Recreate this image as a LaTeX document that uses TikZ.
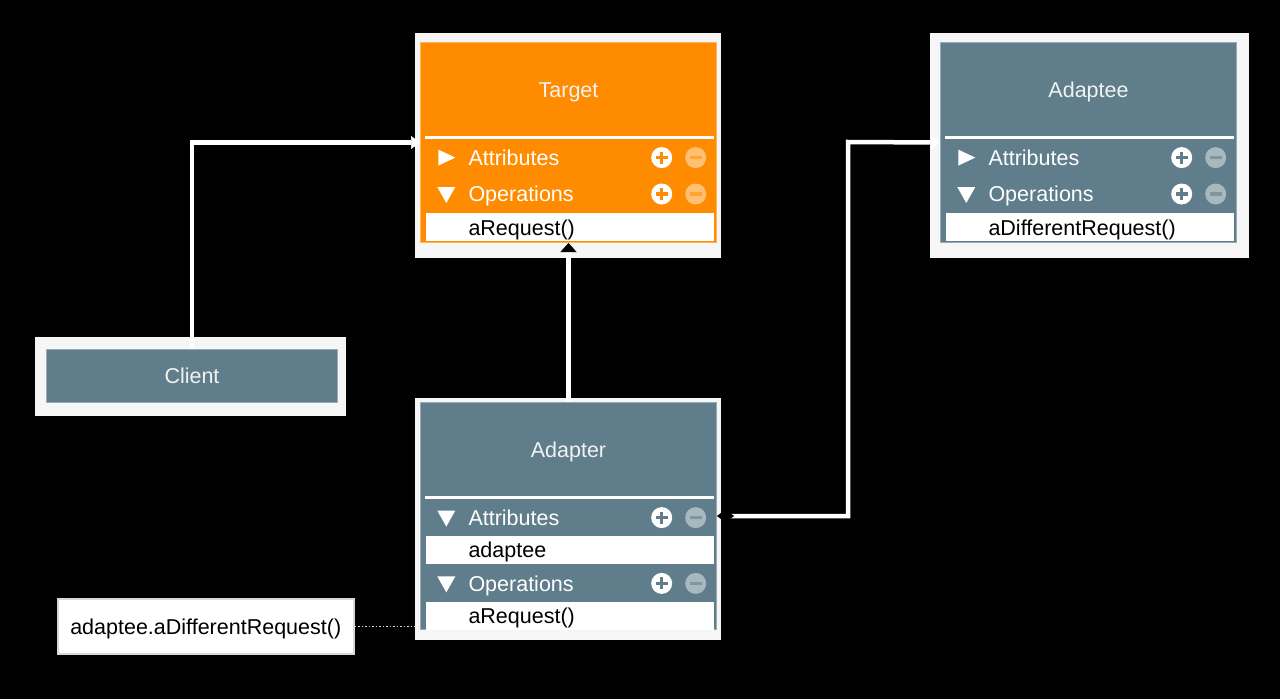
\documentclass[tikz,border=0pt]{standalone}
\usepackage{fontspec}
\setmainfont{Liberation Sans}
\usetikzlibrary{positioning, calc, arrows.meta, backgrounds}

\definecolor{targetorange}{RGB}{255,140,0}
\definecolor{slate}{RGB}{96,125,139}
\definecolor{titlewhite}{RGB}{242,242,242}
\definecolor{halowhite}{RGB}{246,246,246}
\definecolor{notegray}{RGB}{215,215,215}

\tikzset{
  classbox/.style={fill=#1, draw=white!35!#1, line width=1pt, minimum width=296pt, inner sep=0pt, anchor=north west, text height=15.5pt, text depth=0pt},
  classtitle/.style={text=titlewhite, minimum width=296pt, minimum height=95pt, inner sep=0pt, anchor=north, text height=15.5pt, text depth=0pt},
  section/.style={text=white, text width=200pt, inner xsep=48pt, inner ysep=0pt, minimum height=36pt, align=left, text height=15.5pt, text depth=0pt},
  member/.style={fill=white, text=black, text width=202pt, inner xsep=43pt, inner ysep=0pt, minimum height=28pt, align=left, text height=15.5pt, text depth=0pt},
  divider/.style={white, line width=3pt},
  halo/.style={fill=halowhite},
  link/.style={white, line width=4.5pt},
  noteline/.style={notegray, line width=1.5pt, dotted},
  collapsed/.pic={\fill[white] (-8,-8) -- (9,0) -- (-8,8) -- cycle;},
  expanded/.pic={\fill[white] (-9,-7) -- (9,-7) -- (0,9) -- cycle;},
  editbtns/.pic={
    \fill[white] (-55,0) circle (10.5);
    \fill[#1] (-61,-1.7) rectangle (-49,1.7);
    \fill[#1] (-56.7,-6) rectangle (-53.3,6);
    \fill[white!45!#1] (-21,0) circle (10.5);
    \fill[white!20!#1] (-27,-1.7) rectangle (-15,1.7);
  },
}

\begin{document}
\begin{tikzpicture}[x=1pt, y=-1pt, font=\fontsize{21.5pt}{26pt}\selectfont]
\useasboundingbox (0,0) rectangle (1280,699);

% Target
\node[classbox=targetorange, minimum height=200pt] (target) at (420,42) {};
\node[classtitle, below=0pt of target.north] (target-title) {Target};
\draw[divider] ([xshift=5pt]target-title.south west) -- ([xshift=-3pt]target-title.south east);
\node[section, below=2pt of target-title.south west, anchor=north west] (target-attr) {Attributes};
\node[section, below=0pt of target-attr.south west, anchor=north west] (target-ops) {Operations};
\node[member, below=1pt of target-ops.south west, anchor=north west, xshift=5pt] (target-op1) {aRequest()};
\pic at ([xshift=26pt]target-attr.west) {collapsed};
\pic at ([xshift=26pt]target-ops.west) {expanded};
\pic at (target-attr.east) {editbtns=targetorange};
\pic at (target-ops.east) {editbtns=targetorange};

% Adaptee
\node[classbox=slate, minimum height=200pt] (adaptee) at (940,42) {};
\node[classtitle, below=0pt of adaptee.north] (adaptee-title) {Adaptee};
\draw[divider] ([xshift=5pt]adaptee-title.south west) -- ([xshift=-3pt]adaptee-title.south east);
\node[section, below=2pt of adaptee-title.south west, anchor=north west] (adaptee-attr) {Attributes};
\node[section, below=0pt of adaptee-attr.south west, anchor=north west] (adaptee-ops) {Operations};
\node[member, below=1pt of adaptee-ops.south west, anchor=north west, xshift=5pt] (adaptee-op1) {aDifferentRequest()};
\pic at ([xshift=26pt]adaptee-attr.west) {collapsed};
\pic at ([xshift=26pt]adaptee-ops.west) {expanded};
\pic at (adaptee-attr.east) {editbtns=slate};
\pic at (adaptee-ops.east) {editbtns=slate};

% Adapter
\node[classbox=slate, minimum height=227pt] (adapter) at (420,402) {};
\node[classtitle, below=0pt of adapter.north] (adapter-title) {Adapter};
\draw[divider] ([xshift=5pt]adapter-title.south west) -- ([xshift=-3pt]adapter-title.south east);
\node[section, below=2pt of adapter-title.south west, anchor=north west] (adapter-attr) {Attributes};
\node[member, below=0pt of adapter-attr.south west, anchor=north west, xshift=5pt] (adapter-attr1) {adaptee};
\node[section, below=1pt of adapter-attr1.south west, anchor=north west, xshift=-5pt] (adapter-ops) {Operations};
\node[member, below=0pt of adapter-ops.south west, anchor=north west, xshift=5pt] (adapter-op1) {aRequest()};
\pic at ([xshift=26pt]adapter-attr.west) {expanded};
\pic at ([xshift=26pt]adapter-ops.west) {expanded};
\pic at (adapter-attr.east) {editbtns=slate};
\pic at (adapter-ops.east) {editbtns=slate};

% Client and note
\node[classbox=slate, minimum width=291pt, minimum height=53pt, text=titlewhite] (client) at (46,349) {Client};
\node[draw=notegray, fill=white, line width=1.5pt, minimum width=296pt, minimum height=55pt, anchor=north west, text height=15.5pt, text depth=0pt] (note) at (57,598) {adaptee.aDifferentRequest()};

\begin{scope}[on background layer]
    \fill[black] (0,0) rectangle (1280,699);
    \fill[halo] ($(target.north west)+(-5,-9)$) rectangle ($(target.south east)+(4,15)$);
    \fill[halo] ($(adaptee.north west)+(-10,-9)$) rectangle ($(adaptee.south east)+(12,15)$);
    \fill[halo] ($(adapter.north west)+(-5,-4)$) rectangle ($(adapter.south east)+(4,10)$);
    \fill[halo] ($(client.north west)+(-11,-12)$) rectangle ($(client.south east)+(8,13)$);
\end{scope}

\coordinate (adaptee-bend) at (848,142);

\draw[link, -{Triangle[width=13pt, length=9pt, line width=0.5pt]}] (client.north) |- (target.west);
\draw[link, -{Triangle[width=16pt, length=9pt, line width=0.5pt, color=black, fill=black]}] (adapter.north) -- (target.south);
\draw[link, {Diamond[width=13pt, length=17pt, line width=0.5pt, color=black, fill=black]}-{Triangle[width=13pt, length=9pt, line width=0.5pt]}] (adapter.east) -| (adaptee-bend) -- (adaptee.west);
\draw[noteline] (note.east) -- (note.east -| adapter.west);

\end{tikzpicture}
\end{document}
